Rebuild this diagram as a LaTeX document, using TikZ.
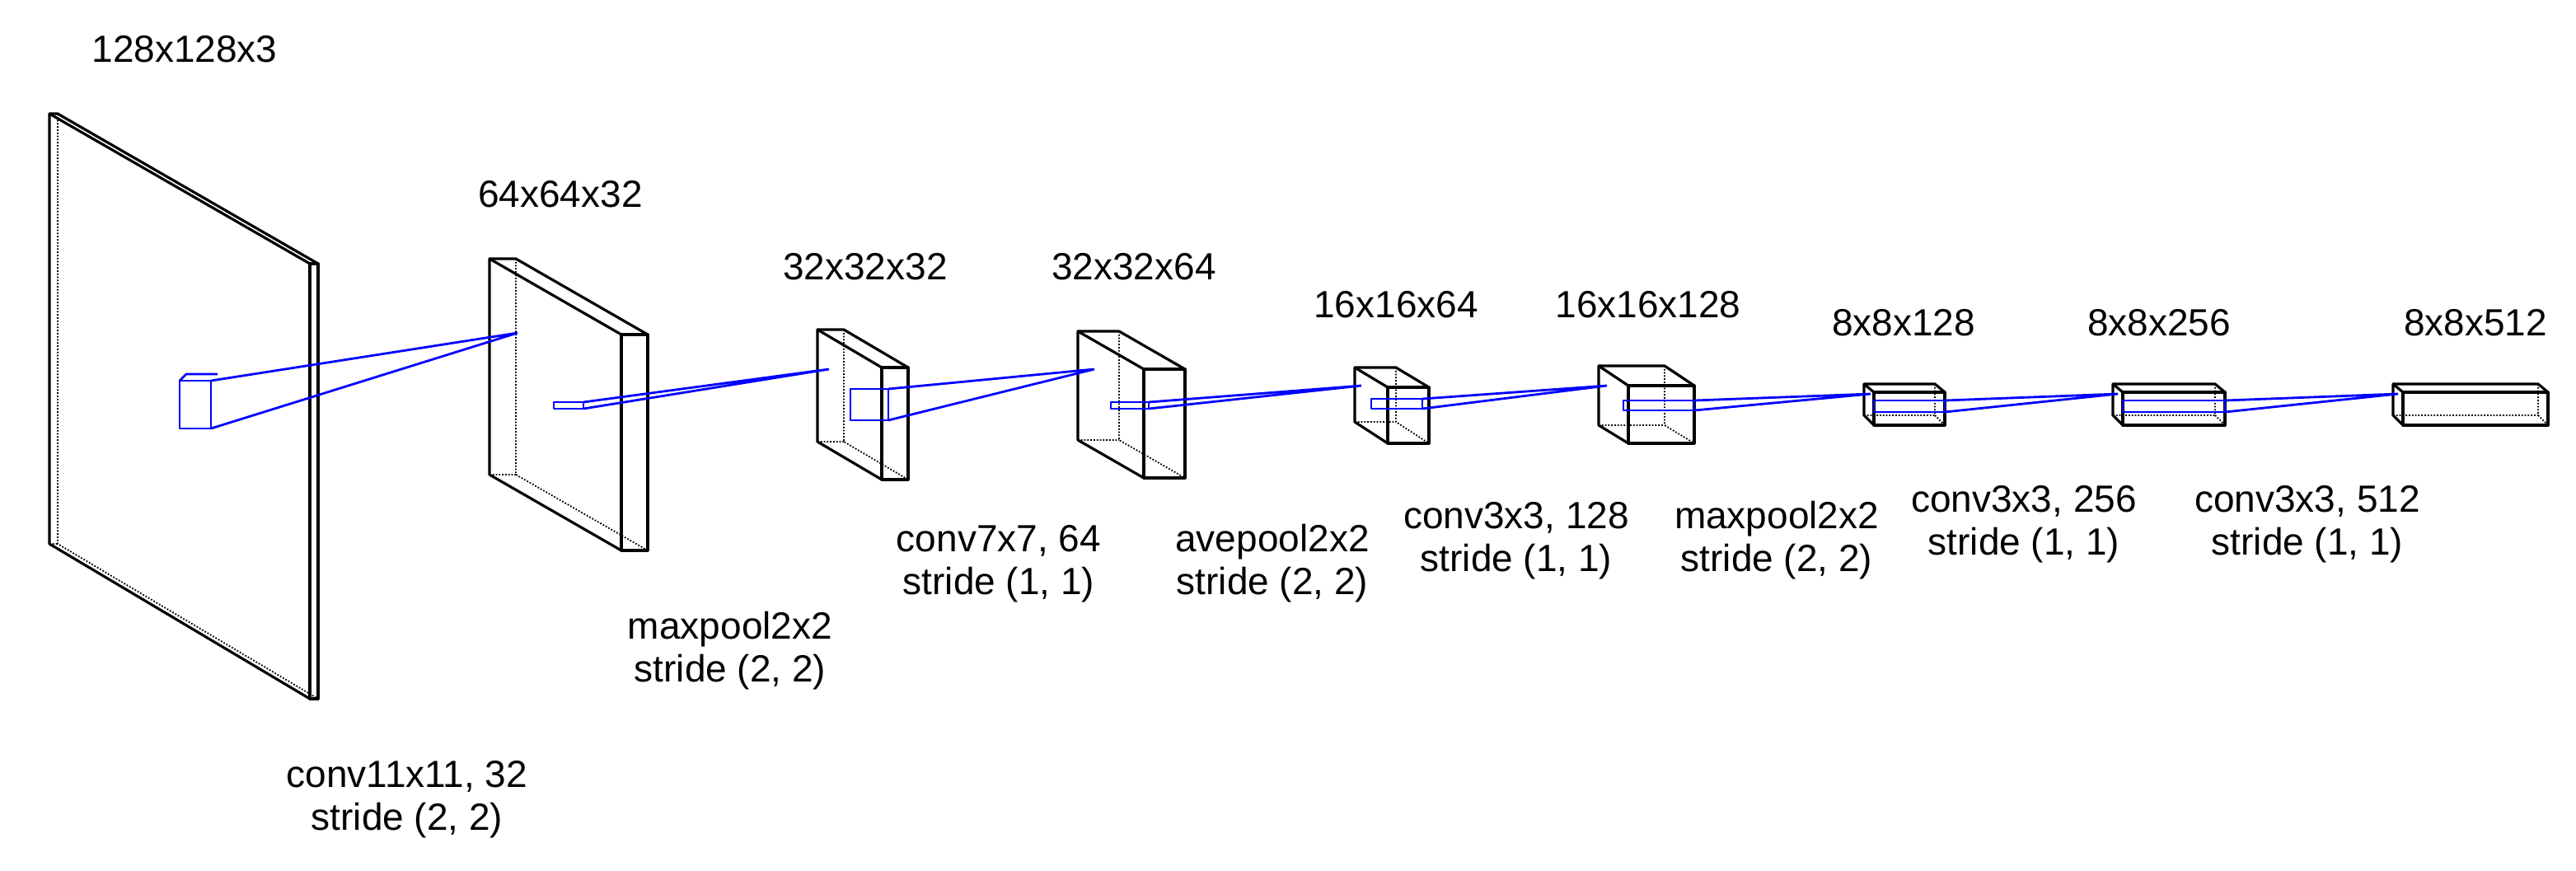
\documentclass[tikz,border=0pt]{standalone}
\usepackage{fontspec}
\setmainfont{Liberation Sans}
\begin{document}
\begin{tikzpicture}[x=1pt,y=-1pt,line join=round,
  edge/.style={line width=1.6pt,black},
  hid/.style={line width=0.9pt,black,densely dotted},
  kern/.style={line width=1.4pt,blue},
  lbl/.style={font=\fontsize{23}{26}\selectfont,align=center,inner sep=0pt}]
\useasboundingbox (0,0) rectangle (1563,528);
\newcommand\mycuboid[7]{% bx bt bb fx ft fb w
  \draw[hid] (#1,#3)--(#1+#7,#3) (#1+#7,#2)--(#1+#7,#3)--(#4+#7,#6);
  \draw[edge] (#1,#2)--(#4,#5)--(#4,#6)--(#1,#3)--cycle;
  \draw[edge] (#1,#2)--(#1+#7,#2)--(#4+#7,#5)--(#4,#5);
  \draw[edge] (#4,#5) rectangle (#4+#7,#6);
}
\newcommand\mykern[5]{% x1 y1 x2 y2 target
  \draw[kern] (#1,#2) rectangle (#3,#4);
  \draw[kern] (#3,#2)--(#5) (#3,#4)--(#5);
}
\mycuboid{30}{69}{330}{188}{160}{424}{5}
\mycuboid{297}{157}{288}{377}{203}{334}{16}
\mycuboid{496}{200}{268}{535}{223}{291}{16}
\mycuboid{654}{201}{267}{694}{224}{290}{25}
\mycuboid{822}{223}{256}{842}{235}{269}{25}
\mycuboid{970}{222}{258}{988}{234}{269}{40}
\mycuboid{1131}{233}{252}{1137}{238}{258}{43}
\mycuboid{1282}{233}{252}{1288}{238}{258}{62}
\mycuboid{1452}{233}{252}{1458}{238}{258}{88}
\coordinate (t1) at (314,202);
\coordinate (t2) at (503,224);
\coordinate (t3) at (664,224);
\coordinate (t4) at (826,234);
\coordinate (t5) at (975,234);
\coordinate (t6) at (1135,239);
\coordinate (t7) at (1285,239);
\coordinate (t8) at (1455,239);
\draw[kern] (109,231)--(113,227)--(132,227);
\mykern{109}{231}{128}{260}{t1}
\mykern{336}{244}{354}{248}{t2}
\mykern{516}{236}{539}{255}{t3}
\mykern{674}{244}{697}{248}{t4}
\mykern{832}{242}{863}{248}{t5}
\mykern{985}{243}{1028}{249}{t6}
\mykern{1137}{243}{1180}{250}{t7}
\mykern{1288}{243}{1350}{250}{t8}
\node[lbl] (a) at (112,30) {128x128x3};
\node[lbl] (b) at (340,118) {64x64x32};
\node[lbl] (c) at (525,162) {32x32x32};
\node[lbl] (d) at (688,162) {32x32x64};
\node[lbl] (e) at (847,185) {16x16x64};
\node[lbl] (f) at (1000,185) {16x16x128};
\node[lbl] (g) at (1155,196) {8x8x128};
\node[lbl] (h) at (1310,196) {8x8x256};
\node[lbl] (i) at (1502,196) {8x8x512};
\node[lbl] (l1) at (247,485) {conv11x11, 32\\stride (2, 2)};
\node[lbl] (l2) at (443,395) {maxpool2x2\\stride (2, 2)};
\node[lbl] (l3) at (606,342) {conv7x7, 64\\stride (1, 1)};
\node[lbl] (l4) at (772,342) {avepool2x2\\stride (2, 2)};
\node[lbl] (l5) at (920,328) {conv3x3, 128\\stride (1, 1)};
\node[lbl] (l6) at (1078,328) {maxpool2x2\\stride (2, 2)};
\node[lbl] (l7) at (1228,318) {conv3x3, 256\\stride (1, 1)};
\node[lbl] (l8) at (1400,318) {conv3x3, 512\\stride (1, 1)};
\end{tikzpicture}
\end{document}
